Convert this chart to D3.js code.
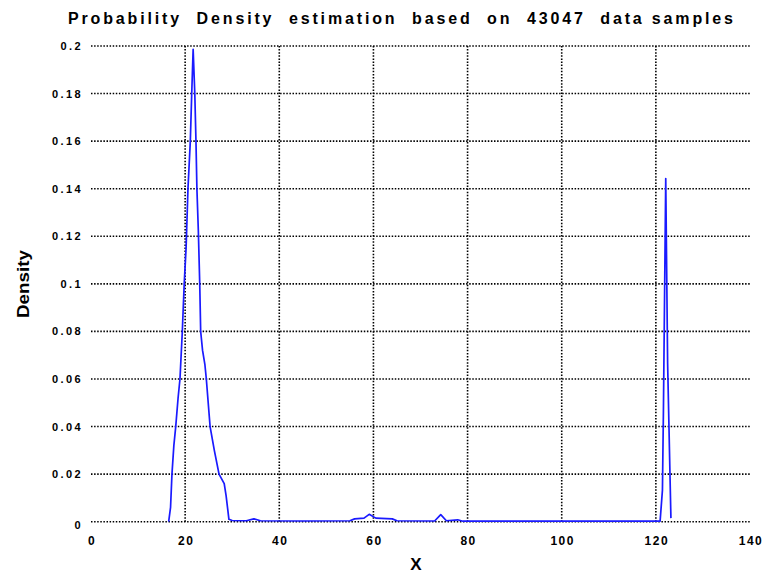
<!DOCTYPE html>
<html>
<head>
<meta charset="utf-8">
<script src="https://cdn.jsdelivr.net/npm/d3@7"></script>
<style>
  body { margin: 0; background: #fff; }
  svg { display: block; }
  text { font-family: "Liberation Sans", Arial, sans-serif; fill: #000; }
</style>
</head>
<body>
<svg id="chart" width="766" height="575"></svg>
<script>
// ---- data ----
const titleText = "Probability  Density  estimation  based  on  43047  data samples";
const xLabel = "X";
const yLabel = "Density";
const xTicks = [0, 20, 40, 60, 80, 100, 120, 140];
const yTicks = [0, 0.02, 0.04, 0.06, 0.08, 0.1, 0.12, 0.14, 0.16, 0.18, 0.2];
const densityX = [16.5, 16.9, 17.2, 17.6, 18.0, 18.5, 18.9, 19.4, 19.8, 20.2, 20.6, 21.1, 21.4, 21.7,
  22.05, 22.3, 22.5, 22.8, 23.1, 23.3, 23.7, 24.2, 24.5, 25.3, 26.2, 27.2, 28.3, 28.7, 29.3,
  30, 33, 34.6, 36, 45, 55, 56, 58, 59.1, 60.5, 64, 65, 73, 74.3, 75.5, 77.9, 79, 100,
  120.9, 121.4, 121.6, 122.1, 122.5, 123.2];
const densityY = [0, 0.006, 0.02, 0.032, 0.04, 0.052, 0.06, 0.08, 0.1, 0.115, 0.14, 0.16, 0.18, 0.1986,
  0.18, 0.16, 0.14, 0.1225, 0.1, 0.08, 0.072, 0.066, 0.06, 0.04, 0.03, 0.02, 0.016, 0.011, 0.001,
  0.0005, 0.0004, 0.0012, 0.0004, 0.0003, 0.0004, 0.0012, 0.0015, 0.0031, 0.0015, 0.0012, 0.0004, 0.0003, 0.003, 0.0004, 0.0008, 0.0002, 0.0002,
  0.0002, 0.0133, 0.0455, 0.1443, 0.0665, 0.0015];

// ---- layout ----
const svg = d3.select("#chart");
const plotL = 91, plotR = 750, plotT = 46, plotB = 521.7;
const x = d3.scaleLinear().domain([0, 140]).range([plotL, plotR]);
const y = d3.scaleLinear().domain([0, 0.2]).range([plotB, plotT]);

// grid: horizontal
svg.append("g").selectAll("line").data(yTicks).join("line")
  .attr("x1", plotL).attr("x2", plotR)
  .attr("y1", d => y(d)).attr("y2", d => y(d))
  .attr("stroke", "#000").attr("stroke-width", 1.6).attr("stroke-dasharray", "1.5,1.6");
// grid: vertical (skip 0 and 140)
svg.append("g").selectAll("line").data(xTicks.filter(d => d > 0 && d < 140)).join("line")
  .attr("x1", d => x(d)).attr("x2", d => x(d))
  .attr("y1", plotT).attr("y2", plotB)
  .attr("stroke", "#000").attr("stroke-width", 1.6).attr("stroke-dasharray", "1.5,1.6");

// y tick labels
svg.append("g").selectAll("text").data(yTicks).join("text")
  .attr("x", 83).attr("y", d => y(d) + (d === 0 ? 7 : 4))
  .attr("text-anchor", "end")
  .attr("font-size", 11).attr("font-weight", "bold")
  .attr("letter-spacing", 2.4)
  .attr("fill", "#444")
  .text(d => d3.format("~g")(d));

// x tick labels
svg.append("g").selectAll("text").data(xTicks).join("text")
  .attr("x", d => x(d) + 1).attr("y", 545)
  .attr("text-anchor", "middle")
  .attr("font-size", 12).attr("font-weight", "bold")
  .attr("letter-spacing", 1.5)
  .attr("fill", "#444")
  .text(d => d);

// density curve
const pts = densityX.map((d, i) => [d, densityY[i]]);
svg.append("path")
  .datum(pts)
  .attr("fill", "none")
  .attr("stroke", "#1a1aff")
  .attr("stroke-width", 1.7)
  .attr("stroke-linejoin", "round")
  .attr("d", d3.line().x(d => x(d[0])).y(d => y(d[1])));

// title
svg.append("text")
  .attr("x", 68).attr("y", 24)
  .attr("font-size", 16).attr("font-weight", "bold")
  .attr("fill", "#111")
  .attr("textLength", 665).attr("lengthAdjust", "spacing")
  .style("white-space", "pre")
  .text(titleText);

// x label
svg.append("text")
  .attr("x", 416).attr("y", 570)
  .attr("text-anchor", "middle")
  .attr("font-size", 17).attr("font-weight", "bold")
  .text(xLabel);

// y label
svg.append("text")
  .attr("transform", "translate(29,284) rotate(-90)")
  .attr("text-anchor", "middle")
  .attr("font-size", 16).attr("font-weight", "bold")
  .attr("textLength", 68).attr("lengthAdjust", "spacingAndGlyphs")
  .text(yLabel);
</script>
</body>
</html>
